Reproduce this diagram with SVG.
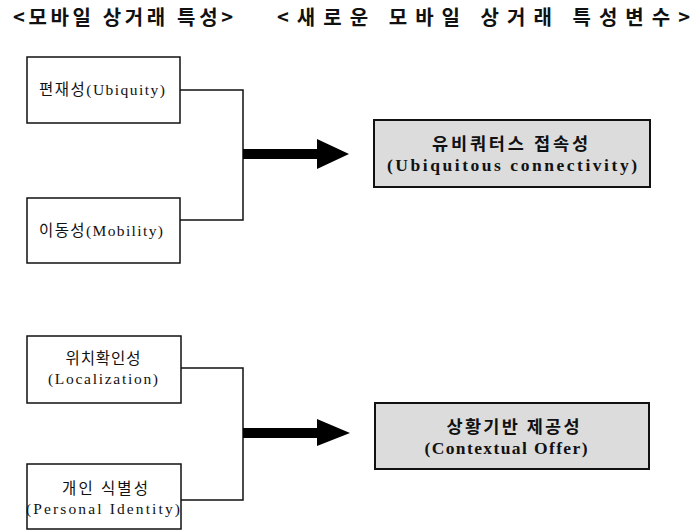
<svg xmlns="http://www.w3.org/2000/svg" width="694" height="530" viewBox="0 0 694 530">
<style>
.hdr{font-family:"Noto Sans CJK KR","Liberation Sans",sans-serif;font-size:20px;font-weight:bold;fill:#111}
.box{fill:#fff;stroke:#111;stroke-width:1.5}
.gbox{fill:#dcdcdc;stroke:#111;stroke-width:2}
.t{font-family:"Liberation Serif","Noto Sans CJK KR",serif;font-size:15.5px;fill:#111;text-anchor:middle}
.tb{font-family:"Liberation Serif","Noto Sans CJK KR",serif;font-size:17.5px;font-weight:bold;fill:#111;text-anchor:middle}
.ln{fill:none;stroke:#111;stroke-width:1.5}
.arr{fill:#000}
</style>
<text class="hdr" x="13" y="25" textLength="220" lengthAdjust="spacing">&lt;모바일 상거래 특성&gt;</text>
<text class="hdr" x="277" y="25" textLength="413" lengthAdjust="spacing">&lt;새로운 모바일 상거래 특성변수&gt;</text>

<g id="n1"><rect class="box" x="27" y="57" width="153" height="66"/><text class="t" x="102" y="95" textLength="126" lengthAdjust="spacing">편재성(Ubiquity)</text></g>
<g id="n2"><rect class="box" x="27" y="198" width="153" height="65"/><text class="t" x="101" y="236" textLength="124" lengthAdjust="spacing">이동성(Mobility)</text></g>
<g id="n3"><rect class="box" x="27" y="336" width="154" height="67"/><text class="t" x="103" y="364" textLength="75" lengthAdjust="spacing">위치확인성</text><text class="t" x="103" y="384" textLength="110" lengthAdjust="spacing">(Localization)</text></g>
<g id="n4"><rect class="box" x="27" y="464" width="154" height="65"/><text class="t" x="105" y="494" textLength="86" lengthAdjust="spacing">개인 식별성</text><text class="t" x="103" y="514" textLength="154" lengthAdjust="spacing">(Personal Identity)</text></g>
<g id="n5"><rect class="gbox" x="374" y="120" width="276" height="67"/><text class="tb" x="510" y="150" textLength="156" lengthAdjust="spacing">유비쿼터스 접속성</text><text class="tb" x="512" y="171" textLength="250" lengthAdjust="spacing">(Ubiquitous connectivity)</text></g>
<g id="n6"><rect class="gbox" x="375" y="403" width="274" height="66"/><text class="tb" x="513" y="433" textLength="133" lengthAdjust="spacing">상황기반 제공성</text><text class="tb" x="506" y="454" textLength="163" lengthAdjust="spacing">(Contextual Offer)</text></g>

<g id="connectors">
<polyline class="ln" points="180,90 243,90 243,220 180,220"/>
<polygon class="arr" points="243,149 317,149 317,139 349,154 317,169 317,159 243,159"/>
<polyline class="ln" points="181,368 243,368 243,500 181,500"/>
<polygon class="arr" points="243,428 317,428 317,419 350,433 317,446 317,438 243,438"/>
</g>
</svg>
